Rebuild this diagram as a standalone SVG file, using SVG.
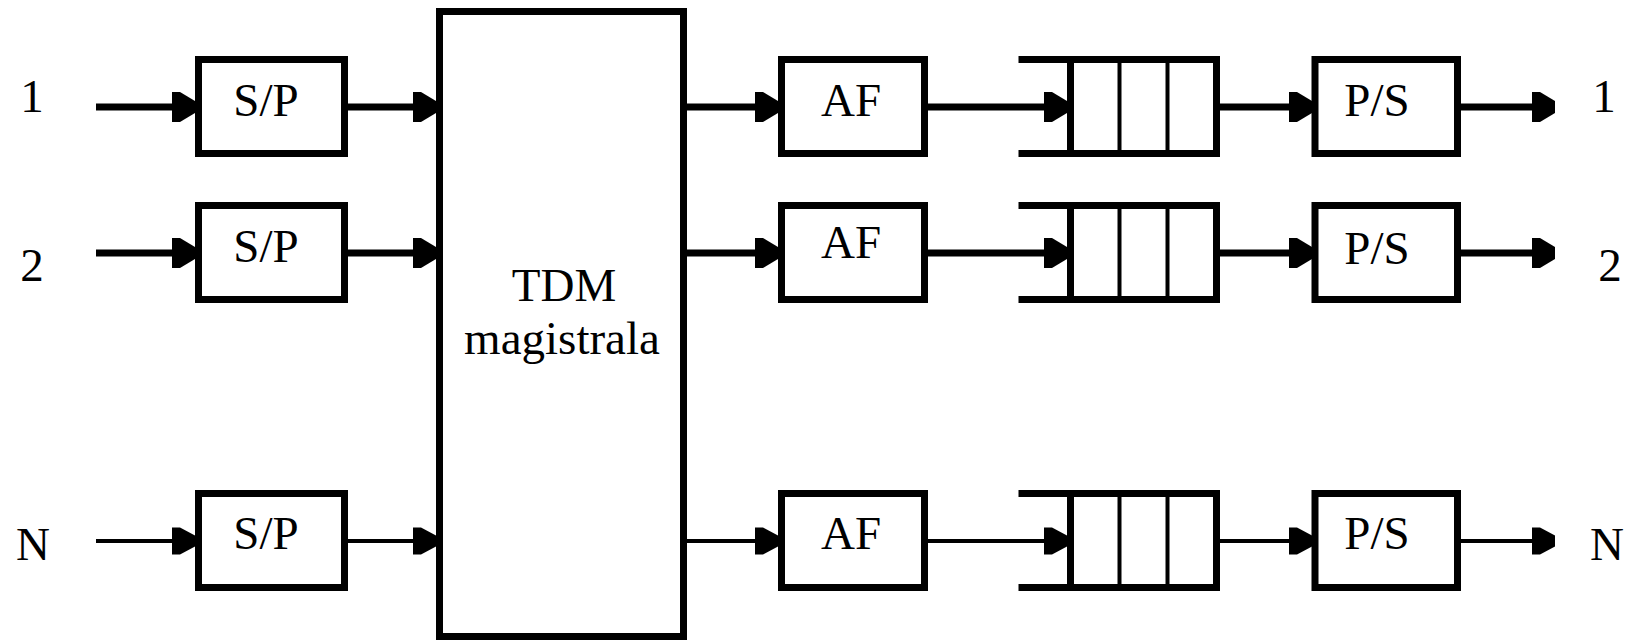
<svg xmlns="http://www.w3.org/2000/svg" width="1627" height="641" viewBox="0 0 1627 641">
<style>
.box{fill:#fff;stroke:#000;stroke-width:7}
.t{font-family:"Liberation Serif","Times New Roman",serif;font-size:47px;fill:#000;text-anchor:middle}
.lbl{font-family:"Liberation Serif","Times New Roman",serif;font-size:47px;fill:#000;text-anchor:middle}
.thick{stroke:#000;stroke-width:7;fill:none}
.thin{stroke:#000;stroke-width:4;fill:none}
.qt{stroke:#000;stroke-width:7}
.qn{stroke:#000;stroke-width:4}
</style>
<defs>
<marker id="arr" markerUnits="userSpaceOnUse" viewBox="-23 -15 23 30" markerWidth="23" markerHeight="30" refX="0" refY="0" orient="auto">
<path d="M-23,-15 L-15,-15 L0,-6 L0,6 L-15,15 L-23,15 Z" fill="#000"/>
</marker>
<marker id="arrs" markerUnits="userSpaceOnUse" viewBox="-23 -14 23 28" markerWidth="23" markerHeight="28" refX="0" refY="0" orient="auto">
<path d="M-23,-13.5 L-15,-13.5 L0,-5.5 L0,5.5 L-15,13.5 L-23,13.5 Z" fill="#000"/>
</marker>
<g id="queue">
<line class="qt" x1="1018.5" y1="0" x2="1220" y2="0"/>
<line class="qt" x1="1018.5" y1="94" x2="1220" y2="94"/>
<line class="qt" x1="1070.5" y1="0" x2="1070.5" y2="94"/>
<line class="qn" x1="1119.5" y1="0" x2="1119.5" y2="94"/>
<line class="qn" x1="1167.5" y1="0" x2="1167.5" y2="94"/>
<line class="qt" x1="1216.5" y1="0" x2="1216.5" y2="94"/>
</g>
</defs>

<g id="connectors">
<line class="thick" x1="96" y1="107" x2="195" y2="107" marker-end="url(#arr)"/>
<line class="thick" x1="348" y1="107" x2="436" y2="107" marker-end="url(#arr)"/>
<line class="thick" x1="687" y1="107" x2="778" y2="107" marker-end="url(#arr)"/>
<line class="thick" x1="928" y1="107" x2="1067" y2="107" marker-end="url(#arr)"/>
<line class="thick" x1="1220" y1="107" x2="1312" y2="107" marker-end="url(#arr)"/>
<line class="thick" x1="1461" y1="107" x2="1555" y2="107" marker-end="url(#arr)"/>

<line class="thick" x1="96" y1="253" x2="195" y2="253" marker-end="url(#arr)"/>
<line class="thick" x1="348" y1="253" x2="436" y2="253" marker-end="url(#arr)"/>
<line class="thick" x1="687" y1="253" x2="778" y2="253" marker-end="url(#arr)"/>
<line class="thick" x1="928" y1="253" x2="1067" y2="253" marker-end="url(#arr)"/>
<line class="thick" x1="1220" y1="253" x2="1312" y2="253" marker-end="url(#arr)"/>
<line class="thick" x1="1461" y1="253" x2="1555" y2="253" marker-end="url(#arr)"/>

<line class="thin" x1="96" y1="541" x2="195" y2="541" marker-end="url(#arrs)"/>
<line class="thin" x1="348" y1="541" x2="436" y2="541" marker-end="url(#arrs)"/>
<line class="thin" x1="687" y1="541" x2="778" y2="541" marker-end="url(#arrs)"/>
<line class="thin" x1="928" y1="541" x2="1067" y2="541" marker-end="url(#arrs)"/>
<line class="thin" x1="1220" y1="541" x2="1312" y2="541" marker-end="url(#arrs)"/>
<line class="thin" x1="1461" y1="541" x2="1555" y2="541" marker-end="url(#arrs)"/>
</g>

<g id="labels-in">
<text class="lbl" x="32" y="112">1</text>
<text class="lbl" x="32" y="281">2</text>
<text class="lbl" x="33" y="560">N</text>
</g>
<g id="labels-out">
<text class="lbl" x="1604" y="112">1</text>
<text class="lbl" x="1610" y="281">2</text>
<text class="lbl" x="1607" y="560">N</text>
</g>

<g id="sp1"><rect class="box" x="198.5" y="59.5" width="146" height="94"/><text class="t" x="266" y="116">S/P</text></g>
<g id="sp2"><rect class="box" x="198.5" y="205.5" width="146" height="94"/><text class="t" x="266" y="262">S/P</text></g>
<g id="spN"><rect class="box" x="198.5" y="493.5" width="146" height="94"/><text class="t" x="266" y="549">S/P</text></g>

<g id="tdm"><rect class="box" x="439.5" y="11.5" width="244" height="625"/>
<text class="t" x="564" y="301" font-size="48">TDM</text>
<text class="t" x="562" y="354" font-size="48">magistrala</text></g>

<g id="af1"><rect class="box" x="781.5" y="59.5" width="143" height="94"/><text class="t" x="851" y="116">AF</text></g>
<g id="af2"><rect class="box" x="781.5" y="205.5" width="143" height="94"/><text class="t" x="851" y="258">AF</text></g>
<g id="afN"><rect class="box" x="781.5" y="493.5" width="143" height="94"/><text class="t" x="851" y="549">AF</text></g>

<g id="q1"><use href="#queue" y="59.5"/></g>
<g id="q2"><use href="#queue" y="205.5"/></g>
<g id="qN"><use href="#queue" y="493.5"/></g>

<g id="ps1"><rect class="box" x="1315" y="59.5" width="142.5" height="94"/><text class="t" x="1377" y="116">P/S</text></g>
<g id="ps2"><rect class="box" x="1315" y="205.5" width="142.5" height="94"/><text class="t" x="1377" y="264">P/S</text></g>
<g id="psN"><rect class="box" x="1315" y="493.5" width="142.5" height="94"/><text class="t" x="1377" y="549">P/S</text></g>
</svg>
